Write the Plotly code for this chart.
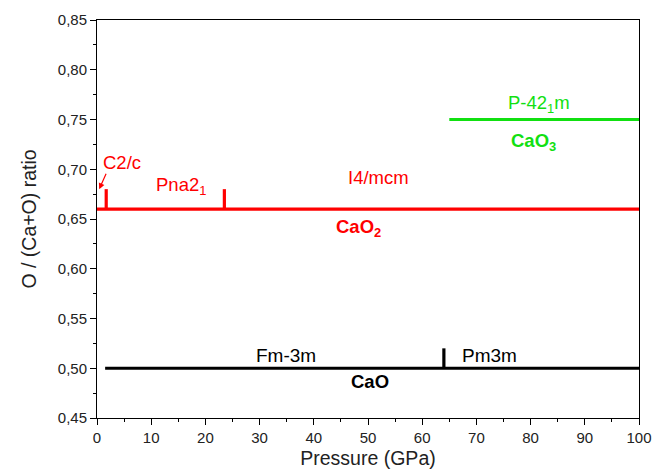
import plotly.graph_objects as go

# Phase lines (pressure ranges in GPa, O/(Ca+O) ratio)
cao_x = [1.5, 100]
cao_y = [0.50, 0.50]
cao_trans_x = [64, 64]
cao_trans_y = [0.50, 0.52]

cao2_x = [0, 100]
cao2_y = [0.66, 0.66]
cao2_trans1_x = [1.7, 1.7]
cao2_trans2_x = [23.5, 23.5]
cao2_trans_y = [0.66, 0.68]

cao3_x = [65, 100]
cao3_y = [0.75, 0.75]

RED = "#ff0000"
GREEN = "#11e011"
BLACK = "#000000"
FONT = "Liberation Sans, Arial, sans-serif"

fig = go.Figure()

def seg(x, y, color):
    fig.add_trace(go.Scatter(x=x, y=y, mode="lines", line=dict(color=color, width=3.2),
                             showlegend=False, hoverinfo="skip"))

seg(cao_x, cao_y, BLACK)
seg(cao_trans_x, cao_trans_y, BLACK)
seg(cao2_x, cao2_y, RED)
seg(cao2_trans1_x, cao2_trans_y, RED)
seg(cao2_trans2_x, cao2_trans_y, RED)
seg(cao3_x, cao3_y, GREEN)

def label(x, y, text, color, size=18.5, bold=False):
    if bold:
        text = "<b>" + text + "</b>"
    fig.add_annotation(x=x, y=y, text=text, showarrow=False,
                       font=dict(family=FONT, size=size, color=color))

label(4.6, 0.7063, "C2/c", RED)
label(15.5, 0.683, "Pna2<sub>1</sub>", RED)
label(52, 0.692, "I4/mcm", RED)
label(48.2, 0.641, "CaO<sub>2</sub>", RED, bold=True)
label(81.5, 0.766, "P-42<sub>1</sub>m", GREEN)
label(80.5, 0.727, "CaO<sub>3</sub>", GREEN, bold=True)
label(34.9, 0.5133, "Fm-3m", BLACK, size=19)
label(72.5, 0.5133, "Pm3m", BLACK, size=19)
label(50.4, 0.487, "CaO", BLACK, bold=True)

# arrow for C2/c
fig.add_annotation(x=0.4, y=0.68, ax=1.8, ay=0.697, axref="x", ayref="y",
                   text="", showarrow=True, arrowhead=2, arrowsize=1,
                   arrowwidth=1.2, arrowcolor=RED)

axis_common = dict(showline=True, linecolor="black", linewidth=1, mirror=True,
                   ticks="outside", ticklen=6, tickwidth=1, tickcolor="black",
                   showgrid=False, zeroline=False, automargin=False,
                   tickfont=dict(family=FONT, size=15, color="#222"))

fig.update_xaxes(range=[0, 100], dtick=10,
                 minor=dict(ticks="outside", ticklen=3, dtick=5, tickcolor="black"),
                 title=dict(text="Pressure (GPa)", font=dict(family=FONT, size=19.5, color="#222"),
                            standoff=6),
                 **axis_common)
fig.update_yaxes(range=[0.45, 0.85], dtick=0.05, tickformat=".2f",
                 minor=dict(ticks="outside", ticklen=3, dtick=0.025, tickcolor="black"),
                 title=dict(text="O / (Ca+O) ratio", font=dict(family=FONT, size=19.5, color="#222"),
                            standoff=15),
                 **axis_common)

fig.update_layout(width=654, height=473, plot_bgcolor="white", paper_bgcolor="white",
                  margin=dict(l=97, r=15, t=20, b=55), separators=",.",
                  font=dict(family=FONT))

fig.write_html("out.html", config={"displayModeBar": False},
               post_script="document.body.style.margin='0';")
